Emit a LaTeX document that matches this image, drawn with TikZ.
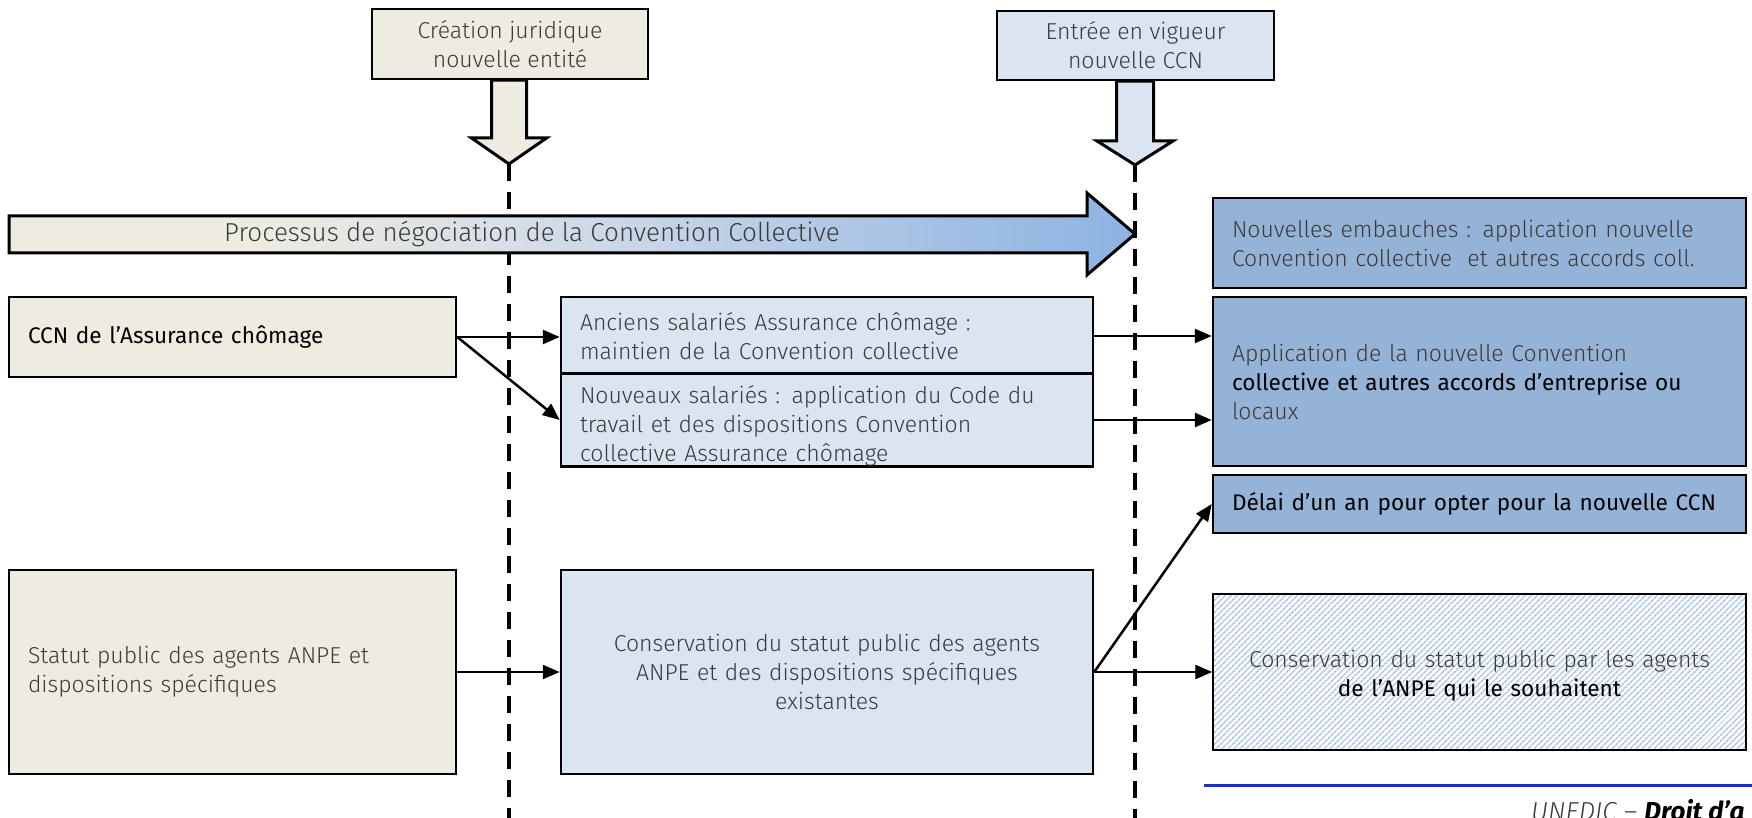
\documentclass[tikz,border=0pt]{standalone}
\usepackage{fontspec}
\setmainfont{Fira Sans Light}
\newfontfamily\dkfont{Fira Sans}
\usetikzlibrary{arrows.meta,calc,patterns.meta}
\definecolor{tanc}{HTML}{EEECE1}
\definecolor{lblue}{HTML}{DBE5F1}
\definecolor{mblue}{HTML}{95B3D7}
\definecolor{hblue}{HTML}{A3BEE2}
\definecolor{txtgray}{HTML}{3A3A3A}
\definecolor{lineblue}{HTML}{1A2FD0}
\definecolor{pmid}{HTML}{D3DCE8}
\definecolor{pmidb}{HTML}{AFC7E5}
\definecolor{pblue}{HTML}{8DB3E2}
\pgfdeclarehorizontalshading{procshade}{100bp}{color(0bp)=(tanc); color(25bp)=(tanc); color(36bp)=(tanc); color(49bp)=(pmid); color(62bp)=(pmidb); color(75bp)=(pblue); color(100bp)=(pblue)}
\newcommand{\dktext}[1]{{\dkfont\fontsize{22.6}{29}\selectfont\color{black}#1}}
\begin{document}
\begin{tikzpicture}[x=1pt,y=-1pt,
  box/.style={draw=black, line width=2.5pt, inner xsep=19pt, inner ysep=0pt,
    font=\fontsize{23}{29}\selectfont, text=txtgray},
  topbox/.style={box, align=center},
  blockarrow/.style={draw=black, line width=3pt, line join=miter},
  dashline/.style={draw=black, line width=3.5pt, dash pattern=on 17pt off 11pt},
  conn/.style={draw=black, line width=2.5pt, -{Triangle[length=17pt,width=14pt]}},
  proctext/.style={font=\fontsize{26}{30}\selectfont, text=txtgray, inner sep=0pt}
]
\useasboundingbox (0,0) rectangle (1752,818);
\clip (0,0) rectangle (1752,818);

\coordinate (t1) at (509,164);
\coordinate (b1) at (509,818);
\coordinate (t2) at (1135,165);
\coordinate (b2) at (1135,818);
\coordinate (ptip) at (1135,234);
\coordinate (bl1) at (1204,785);
\coordinate (bl2) at (1752,785);

% vertical dashed time lines
\draw[dashline] (t1) -- (b1);
\draw[dashline] (t2) -- (b2);

% top boxes
\node[topbox, fill=tanc, minimum width=276pt, minimum height=70pt] (crea) at (510,44)
  {Création juridique\\nouvelle entité};
\node[topbox, fill=lblue, minimum width=277pt, minimum height=69pt] (vig) at (1135.5,45.5)
  {Entrée en vigueur\\nouvelle CCN};

% block arrows
\draw[blockarrow, fill=tanc] ($(crea.south -| t1)+(-17.5,0)$) -- ($(t1)+(-17.5,-26)$)
  -- ($(t1)+(-37.5,-26)$) -- (t1) -- ($(t1)+(37.5,-26)$) -- ($(t1)+(17.5,-26)$)
  -- ($(crea.south -| t1)+(17.5,0)$) -- cycle;
\draw[blockarrow, fill=lblue] ($(vig.south -| t2)+(-18.5,0)$) -- ($(t2)+(-18.5,-24)$)
  -- ($(t2)+(-38,-24)$) -- (t2) -- ($(t2)+(38,-24)$) -- ($(t2)+(18.5,-24)$)
  -- ($(vig.south -| t2)+(18.5,0)$) -- cycle;

% process arrow
\shadedraw[shading=procshade, line width=3pt, line join=miter]
  (9,216) -- (1087,216) -- (1087,193) -- (ptip) -- (1087,275) -- (1087,253) -- (9,253) -- cycle;
\node[proctext] (proc) at (532,234) {Processus de négociation de la Convention Collective};

% left column
\node[box, fill=tanc, minimum width=447pt, minimum height=80pt, text width=409pt, align=left] (ccn) at (232.5,337)
  {\dktext{CCN de l’Assurance chômage}};
\node[box, fill=tanc, minimum width=447pt, minimum height=204pt, text width=409pt, align=left] (statut) at (232.5,672)
  {Statut public des agents ANPE et\\dispositions spécifiques};

% middle column
\node[box, fill=lblue, minimum width=532pt, minimum height=78pt, text width=494pt, align=left] (anc) at (827,336)
  {Anciens salariés Assurance chômage :\\maintien de la Convention collective};
\node[box, fill=lblue, minimum width=532pt, minimum height=90pt, text width=494pt, align=left] (nouv) at (827,420)
  {\rule{0pt}{30pt}Nouveaux salariés : application du Code du\\travail et des dispositions Convention\\collective Assurance chômage};
\node[box, fill=lblue, minimum width=532pt, minimum height=204pt, text width=494pt, align=center] (cons) at (827,672)
  {Conservation du statut public des agents\\ANPE et des dispositions spécifiques\\existantes};

% right column
\node[box, fill=mblue, minimum width=533pt, minimum height=90pt, text width=495pt, align=left] (emb) at (1479.5,243)
  {Nouvelles embauches : application nouvelle\\Convention collective \ et autres accords coll.};
\node[box, fill=mblue, minimum width=533pt, minimum height=169pt, text width=495pt, align=left] (app) at (1479.5,381.5)
  {Application de la nouvelle Convention\\\dktext{collective et autres accords d’entreprise ou}\\locaux};
\node[box, fill=mblue, minimum width=533pt, minimum height=58pt, text width=495pt, align=left] (delai) at (1479.5,504)
  {\dktext{Délai d’un an pour opter pour la nouvelle CCN}};
\node[box, pattern={Lines[angle=45,distance=4pt,line width=1.5pt]}, pattern color=hblue,
  minimum width=533pt, minimum height=156pt, text width=495pt, align=center] (hatch) at (1479.5,672)
  {\rule{0pt}{24pt}Conservation du statut public par les agents\\\dktext{de l’ANPE qui le souhaitent}};

% connectors
\draw[conn] (ccn.east) -- (ccn.east -| anc.west);
\draw[conn] (ccn.east) -- (nouv.west);
\draw[conn] (anc.east) -- (anc.east -| app.west);
\draw[conn] (nouv.east) -- (nouv.east -| app.west);
\draw[conn] (statut.east) -- (cons.west);
\draw[conn] (cons.east) -- (hatch.west);
\draw[conn] (cons.east) -- (delai.west);

% footer
\draw[line width=3pt, lineblue] (bl1) -- (bl2);
\node[anchor=base west, inner sep=0pt, font=\fontsize{26}{30}\selectfont\itshape, text=txtgray] (foot) at (1531,820)
  {UNEDIC – {\dkfont\bfseries\color{black}Droit d’a}};
\end{tikzpicture}
\end{document}
